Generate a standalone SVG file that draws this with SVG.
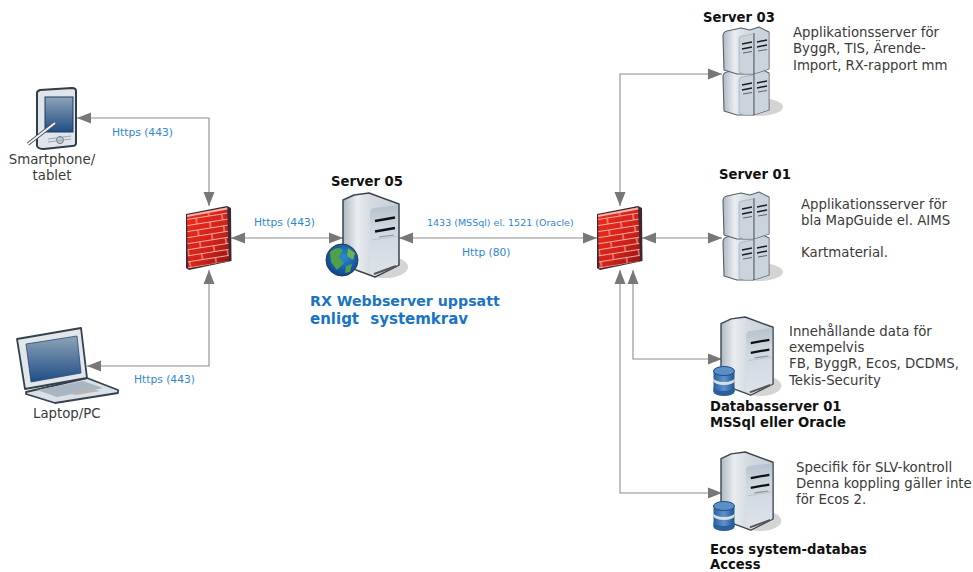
<svg xmlns="http://www.w3.org/2000/svg" width="973" height="572" viewBox="0 0 973 572">
<style>
text{font-family:"DejaVu Sans",Verdana,sans-serif}
.b{font-size:13.200px;font-weight:bold;fill:#111}
.d{font-size:13.300px;fill:#3a3a3a}
.l{font-size:10.700px;fill:#2f86d2}
.s{font-size:9.500px;fill:#2f86d2}
.h{font-weight:bold;fill:#1a74c4}
.c{fill:none;stroke:#8c8c8c;stroke-width:1.100}
</style>
<defs>
<marker id="a" markerUnits="userSpaceOnUse" markerWidth="14" markerHeight="12" refX="14" refY="6" orient="auto-start-reverse"><path d="M0 .5L14 6L0 11.500Z" fill="#777"/></marker>
<linearGradient id="side" x1="0" y1="0" x2="1" y2="0"><stop offset="0" stop-color="#aeb9c2"/><stop offset=".25" stop-color="#e9edf0"/><stop offset=".5" stop-color="#d5dbe1"/><stop offset="1" stop-color="#c6ced6"/></linearGradient>
<linearGradient id="front" x1="0" y1="0" x2="0" y2="1"><stop offset="0" stop-color="#b4c1cd"/><stop offset=".3" stop-color="#ced7df"/><stop offset="1" stop-color="#dde3e9"/></linearGradient>
<linearGradient id="scr" x1="0" y1="0" x2="0" y2="1"><stop offset="0" stop-color="#8ea3b8"/><stop offset="1" stop-color="#1f4d85"/></linearGradient>
<linearGradient id="red" x1="0" y1="0" x2="1" y2="1"><stop offset="0" stop-color="#f22c1c"/><stop offset=".6" stop-color="#d0211a"/><stop offset="1" stop-color="#8a1512"/></linearGradient>
<linearGradient id="db" x1="0" y1="0" x2="1" y2="0"><stop offset="0" stop-color="#2a5f9e"/><stop offset=".5" stop-color="#5d92cc"/><stop offset="1" stop-color="#22548e"/></linearGradient>
<radialGradient id="globe" cx=".55" cy=".4" r=".65"><stop offset="0" stop-color="#2a8ad8"/><stop offset="1" stop-color="#0b3f86"/></radialGradient>

<g id="tower">
<ellipse cx="42" cy="74" rx="23" ry="11" fill="#d4d4d4"/>
<path d="M0 7L11 2L26 0L56 11V72L32 84L13 77L0 68Z" fill="url(#side)" stroke="#3c4650" stroke-width="1.500" stroke-linejoin="round"/>
<path d="M27 19Q27 16 31 15L55 12V72L32 83L27 80Z" fill="url(#front)"/>
<path d="M32 28L52 24.500M32 38.500L52 35" stroke="#111" stroke-width="2.400"/>
<path d="M36 44L51 42" stroke="#8d959c" stroke-width="1.200"/>
<path d="M31 81L53 73" stroke="#555" stroke-width="2"/>
<path d="M29 47L55 43" stroke="#aab3bb" stroke-width=".6"/>
</g>

<g id="unit">
<path d="M0 9Q0 5 4 4L18 1L27 3L36 0L46 5V42L30 47L14 47L1 43Z" fill="url(#side)" stroke="#56616b" stroke-width="1.100" stroke-linejoin="round"/>
<path d="M16 12Q16 9 19 9L30.500 7V47H21L16 45Z" fill="#cbd4dd" stroke="#8d99a5" stroke-width=".5"/>
<path d="M31.500 7L45.500 5.500V42L31.500 46.500Z" fill="#cbd4dd"/>
<path d="M19 17L29 15M19 22L29 20M34 15L44 13M34 20L44 18" stroke="#1c1c1c" stroke-width="1.500"/>
<path d="M20 26L29 24.500M35 24L44 22.500" stroke="#5a636b" stroke-width="1"/>
<path d="M31 6V47" stroke="#4f5a65" stroke-width="1"/>
</g>
<g id="rack">
<ellipse cx="36" cy="80" rx="24" ry="9" fill="#d4d4d4"/>
<use href="#unit" y="41"/>
<use href="#unit"/>
</g>

<pattern id="bricks" width="26" height="12" patternUnits="userSpaceOnUse" patternTransform="rotate(-9) translate(2 1)">
<path d="M0 0.500H26M0 6.500H26M6 0V6M19 6V12" stroke="#f2aaa0" stroke-width="1.100" fill="none"/>
</pattern>
<g id="wall">
<path d="M0 8L41 0L45 2L45.500 55L3 64L0 62Z" fill="#3a2a30"/>
<path d="M1 9L41 1.500L43 55L2 62.500Z" fill="url(#red)"/>
<path d="M1 9L41 1.500L43 55L2 62.500Z" fill="url(#bricks)"/>
<path d="M1 9L41 1.500L41.500 3.500L1 11Z" fill="#f4b5ac"/>
</g>
<g id="cyl">
<rect x="-10.500" y="5" width="21" height="21" fill="url(#db)"/>
<path d="M-10.500 12a10.500 4 0 0 0 21 0v3a10.500 4 0 0 1 -21 0z" fill="#d8dde4"/>
<path d="M-10.500 21a10.500 4 0 0 0 21 0v5a10.500 4 0 0 1 -21 0z" fill="#2a5f9e"/>
<ellipse cx="0" cy="5" rx="10.500" ry="4.500" fill="#5c8fc8" stroke="#1e4f8a"/>
</g>
</defs>

<g id="connectors">
<path class="c" d="M77 118H209V206" marker-start="url(#a)" marker-end="url(#a)"/>
<path class="c" d="M87 366H209V270" marker-start="url(#a)" marker-end="url(#a)"/>
<path class="c" d="M231 238H343" marker-start="url(#a)" marker-end="url(#a)"/>
<path class="c" d="M399 238H597" marker-start="url(#a)" marker-end="url(#a)"/>
<path class="c" d="M722 74H620V206" marker-start="url(#a)" marker-end="url(#a)"/>
<path class="c" d="M642 238H722" marker-start="url(#a)" marker-end="url(#a)"/>
<path class="c" d="M633 270V359H722" marker-start="url(#a)" marker-end="url(#a)"/>
<path class="c" d="M620 270V493H722" marker-start="url(#a)" marker-end="url(#a)"/>
</g>
<g id="connector-labels">
<text class="l" x="112" y="136">Https (443)</text>
<text class="l" x="134" y="383">Https (443)</text>
<text class="l" x="254" y="226">Https (443)</text>
<text class="s" x="427" y="226">1433 (MSSql) el. 1521 (Oracle)</text>
<text class="l" x="462" y="256">Http (80)</text>
</g>

<g id="smartphone">
<path d="M37 93Q37 91 40 90L72 88Q76 88 76 91V143Q76 146 72 146L44 149Q38 149 37 146Z" fill="#dfe5ea" stroke="#2f3c4a" stroke-width="2"/>
<rect x="45" y="97" width="28" height="35" fill="url(#scr)" stroke="#1d3c60"/>
<circle cx="60" cy="140" r="3.500" fill="#c5ced6" stroke="#6a747e"/>
<path d="M48 139L71 136M48 142L71 139" stroke="#9aa4ae" stroke-width="1"/>
<path d="M28 144L55 123" stroke="#4a5560" stroke-width="3.500"/>
<path d="M28 144L55 123" stroke="#f2f2f2" stroke-width="1.800"/>
<text class="d" x="52" y="164" text-anchor="middle">Smartphone/</text>
<text class="d" x="52" y="180" text-anchor="middle">tablet</text>
</g>

<g id="laptop">
<path d="M26 392L87 378L118 390V393L55 403L26 394Z" fill="#d9e0e7" stroke="#35414d" stroke-width="1.800" stroke-linejoin="round"/>
<path d="M37 390L83 381L103 388L57 397Z" fill="#a9b5c0"/>
<path d="M67 393L91 388L100 391L76 395Z" fill="#b5b5b5"/>
<path d="M17 339L81 328L87 378L25 389Z" fill="#e1e6eb" stroke="#35414d" stroke-width="1.800" stroke-linejoin="round"/>
<path d="M26 344L77 336L81 373L31 382Z" fill="url(#scr)" stroke="#2a4a72" stroke-width=".8"/>
<text class="d" x="33" y="418">Laptop/PC</text>
</g>

<g id="firewall-1"><use href="#wall" x="186" y="206"/></g>
<g id="firewall-2"><use href="#wall" x="597" y="206"/></g>

<g id="server-05">
<use href="#tower" x="343" y="193"/>
<circle cx="342" cy="260" r="16" fill="url(#globe)" stroke="#2f3a48" stroke-width="1"/>
<path d="M330 252Q338 245 343 250L339 257L344 263L337 270L331 262Z" fill="#4ea04a"/>
<path d="M348 248L355 253L353 260L347 256Z" fill="#6bb24f"/>
<path d="M346 266L352 264L350 272L345 273Z" fill="#4ea04a"/>
<text class="b" x="331" y="186">Server 05</text>
<text class="h" x="310" y="306" font-size="14.200">RX Webbserver uppsatt</text>
<text class="h" x="310" y="324" font-size="15" word-spacing="6">enligt systemkrav</text>
</g>

<g id="server-03">
<use href="#rack" x="723" y="27"/>
<text class="b" x="703" y="22">Server 03</text>
<text class="d" x="793" y="37">Applikationsserver för</text>
<text class="d" x="793" y="53">ByggR, TIS, Ärende-</text>
<text class="d" x="793" y="70">Import, RX-rapport mm</text>
</g>

<g id="server-01">
<use href="#rack" x="723" y="192"/>
<text class="b" x="719" y="179">Server 01</text>
<text class="d" x="801" y="209">Applikationsserver för</text>
<text class="d" x="801" y="225">bla MapGuide el. AIMS</text>
<text class="d" x="801" y="257">Kartmaterial.</text>
</g>

<g id="databasserver-01">
<use href="#tower" transform="translate(721 317) scale(.93)"/>
<use href="#cyl" x="724" y="366"/>
<text class="b" x="710" y="411">Databasserver 01</text>
<text class="b" x="710" y="427">MSSql eller Oracle</text>
<text class="d" x="789" y="336">Innehållande data för</text>
<text class="d" x="789" y="352">exempelvis</text>
<text class="d" x="789" y="368">FB, ByggR, Ecos, DCDMS,</text>
<text class="d" x="789" y="385">Tekis-Security</text>
</g>

<g id="ecos-databas">
<use href="#tower" transform="translate(721 452) scale(.93)"/>
<use href="#cyl" x="724" y="501"/>
<text class="b" x="710" y="554">Ecos system-databas</text>
<text class="b" x="710" y="569">Access</text>
<text class="d" x="796" y="472">Specifik för SLV-kontroll</text>
<text class="d" x="796" y="488">Denna koppling gäller inte</text>
<text class="d" x="796" y="504">för Ecos 2.</text>
</g>
</svg>
